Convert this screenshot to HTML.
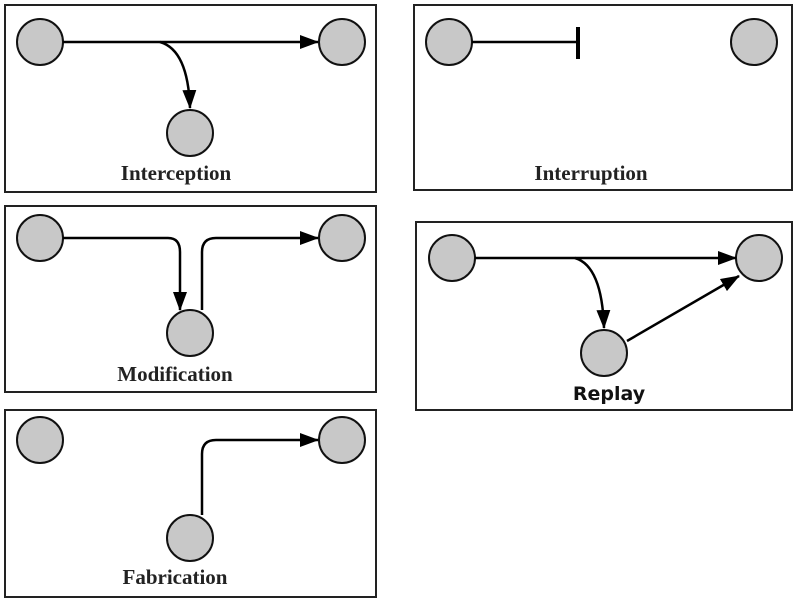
<!DOCTYPE html>
<html><head><style>body{margin:0;background:#fff}svg{display:block}</style></head><body>
<svg width="800" height="600" xmlns="http://www.w3.org/2000/svg">
<defs><marker id="b" markerWidth="20" markerHeight="14" refX="18" refY="7" orient="auto" markerUnits="userSpaceOnUse"><path d="M0,0L19,7L0,14z" fill="#000"/></marker></defs>
<g fill="none" stroke="#222" stroke-width="2">
<rect x="5" y="5" width="371" height="187"/>
<rect x="414" y="5" width="378" height="185"/>
<rect x="5" y="206" width="371" height="186"/>
<rect x="416" y="222" width="376" height="188"/>
<rect x="5" y="410" width="371" height="187"/>
</g>
<g fill="#c8c8c8" stroke="#111" stroke-width="2">
<circle cx="40" cy="42" r="23"/><circle cx="342" cy="42" r="23"/><circle cx="190" cy="133" r="23"/>
<circle cx="449" cy="42" r="23"/><circle cx="754" cy="42" r="23"/>
<circle cx="40" cy="238" r="23"/><circle cx="342" cy="238" r="23"/><circle cx="190" cy="333" r="23"/>
<circle cx="452" cy="258" r="23"/><circle cx="759" cy="258" r="23"/><circle cx="604" cy="353" r="23"/>
<circle cx="40" cy="440" r="23"/><circle cx="342" cy="440" r="23"/><circle cx="190" cy="538" r="23"/>
</g>
<g fill="none" stroke="#000" stroke-width="2.5">
<path d="M63,42H318" marker-end="url(#b)"/>
<path d="M160,42Q188,50 190,108" marker-end="url(#b)"/>
<path d="M472,42H576"/>
<path d="M578,27V59" stroke-width="4"/>
<path d="M63,238H168Q180,238 180,252V310" marker-end="url(#b)"/>
<path d="M202,310V252Q202,238 216,238H318" marker-end="url(#b)"/>
<path d="M475,258H736" marker-end="url(#b)"/>
<path d="M575,258Q602,266 604,328" marker-end="url(#b)"/>
<path d="M627,341L739,276" marker-end="url(#b)"/>
<path d="M202,515V454Q202,440 216,440H318" marker-end="url(#b)"/>
</g>
<g font-family="Liberation Serif,serif" font-weight="bold" font-size="21" fill="#222" text-anchor="middle">
<text x="176" y="180">Interception</text>
<text x="591" y="180">Interruption</text>
<text x="175" y="381">Modification</text>
<text x="175" y="584">Fabrication</text>
</g>
<text x="609" y="400" font-family="DejaVu Sans,sans-serif" font-weight="bold" font-size="19" text-anchor="middle" fill="#111">Replay</text>
</svg>
</body></html>
